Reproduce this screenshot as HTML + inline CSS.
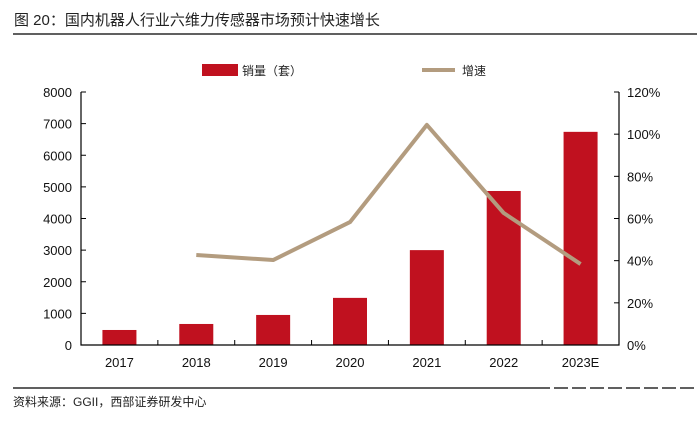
<!DOCTYPE html>
<html><head><meta charset="utf-8"><style>
body{margin:0;background:#fff;width:697px;height:416px;overflow:hidden;font-family:"Liberation Sans","Noto Sans CJK SC",sans-serif}
</style></head><body>
<svg id="c" width="697" height="416" style="font-family:'Liberation Sans','Noto Sans CJK SC',sans-serif">
<text x="14" y="25" font-size="15" fill="#222">图 20：国内机器人行业六维力传感器市场预计快速增长</text>
<line x1="13" y1="34" x2="697" y2="34" stroke="#000" stroke-width="1.2"/>
<rect x="202" y="64" width="36" height="12" fill="#c0111f"/>
<text x="242" y="75" font-size="12" fill="#222">销量（套）</text>
<line x1="422" y1="70" x2="455" y2="70" stroke="#b39c7f" stroke-width="4"/>
<text x="462" y="75" font-size="12" fill="#222">增速</text>
<g id="plot"></g>
<line x1="13" y1="388" x2="550" y2="388" stroke="#000" stroke-width="1.2"/>
<line x1="554" y1="388" x2="697" y2="388" stroke="#000" stroke-width="1.2" stroke-dasharray="14,4"/>
<text x="13" y="406" font-size="12" fill="#222">资料来源：GGII，西部证券研发中心</text>
</svg>
<script>
const categories=["2017","2018","2019","2020","2021","2022","2023E"];
const sales=[475,665,950,1490,3000,4870,6740];
const growth=[null,42.7,40.3,58.3,104.4,62.6,38.4];
const leftTicks=[0,1000,2000,3000,4000,5000,6000,7000,8000];
const rightTicks=[0,20,40,60,80,100,120];
const L=81,R=619,T=92,B=345;
const yL=v=>B-(v/8000)*(B-T);
const yR=v=>B-(v/120)*(B-T);
const bw=(R-L)/categories.length;
const xC=i=>L+bw*(i+0.5);
const g=document.getElementById('plot');
const NS="http://www.w3.org/2000/svg";
function mk(t,a){const e=document.createElementNS(NS,t);for(const k in a)e.setAttribute(k,a[k]);g.appendChild(e);return e;}
sales.forEach((v,i)=>{const r=mk('rect',{x:xC(i)-17,y:yL(v),width:34,height:B-yL(v),fill:'#c0111f'});

});
let pts=[];growth.forEach((v,i)=>{if(v!=null)pts.push(xC(i)+','+yR(v));});
const pl=mk('polyline',{points:pts.join(' '),fill:'none',stroke:'#b39c7f','stroke-width':4,'stroke-linejoin':'round'});


const ax=mk('path',{d:`M${L},${T}V${B}H${R}V${T}`,fill:'none',stroke:'#000','stroke-width':1.2});


leftTicks.forEach(v=>{mk('line',{x1:L,x2:L+5,y1:yL(v),y2:yL(v),stroke:'#000'});
const t=mk('text',{x:L-9,y:yL(v)+5,'text-anchor':'end','font-size':13,fill:'#111'});t.textContent=v;

});
rightTicks.forEach(v=>{mk('line',{x1:R-5,x2:R,y1:yR(v),y2:yR(v),stroke:'#000'});
const t=mk('text',{x:R+8,y:yR(v)+5,'font-size':13,fill:'#111'});t.textContent=v+'%';

});
for(let i=1;i<categories.length;i++)mk('line',{x1:L+bw*i,x2:L+bw*i,y1:B,y2:B-5,stroke:'#000'});
categories.forEach((c,i)=>{const t=mk('text',{x:xC(i),y:B+22,'text-anchor':'middle','font-size':13,fill:'#111'});t.textContent=c;

});
</script>
</body></html>
